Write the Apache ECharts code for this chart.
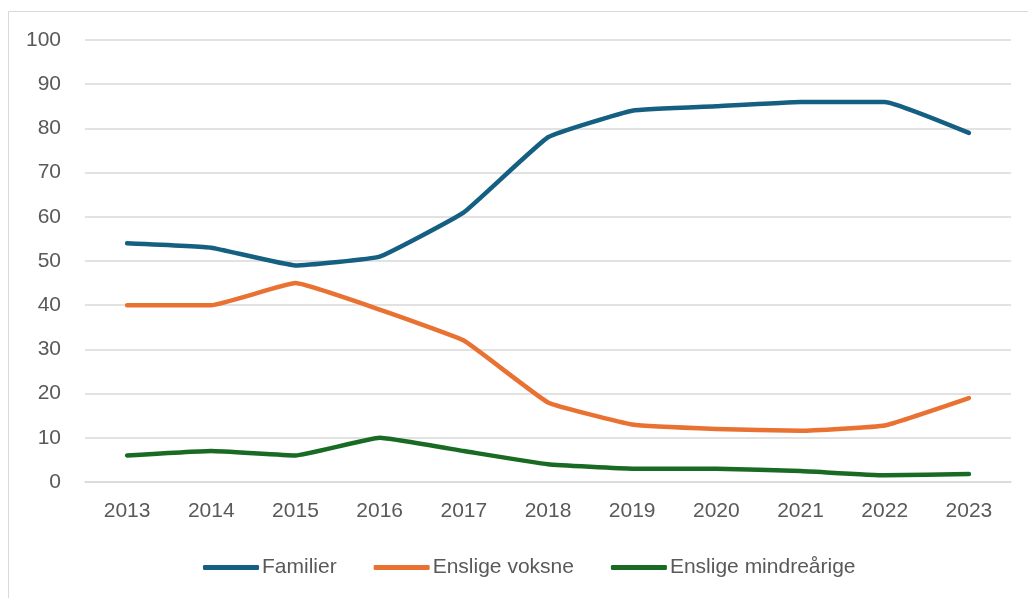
<!DOCTYPE html>
<html><head><meta charset="utf-8">
<script src="https://cdn.jsdelivr.net/npm/echarts@6/dist/echarts.min.js"></script>
<style>html,body{margin:0;padding:0;background:#fff}#c{width:1028px;height:598px}</style>
</head><body><div id="c"></div>
<script>
const years = ['2013','2014','2015','2016','2017','2018','2019','2020','2021','2022','2023'];
const familier = [54, 53, 49, 51, 61, 78, 84, 85, 86, 86, 79];
const ensligeVoksne = [40, 40, 45, 39, 32, 18, 13, 12, 11.6, 12.8, 19];
const ensligeMindreaarige = [6, 7, 6, 10, 7, 4, 3, 3, 2.5, 1.5, 1.8];
const seriesNames = ['Familier', 'Enslige voksne', 'Enslige mindreårige'];

const chart = echarts.init(document.getElementById('c'), null, {renderer:'canvas'});
const font = 'Liberation Sans, Arial, sans-serif';
function line(name, data, color){
  return {name, type:'line', data, symbol:'none', smooth:0.1,
    lineStyle:{width:4.5, color, cap:'round', join:'round'}, itemStyle:{color}};
}
chart.setOption({
  animation:false,
  graphic:[{type:'rect', shape:{x:8.5, y:11.5, width:1100, height:700},
    style:{fill:'none', stroke:'#d9d9d9', lineWidth:1}, silent:true}],
  grid:{left:85, right:17, top:40, bottom:116, containLabel:false},
  legend:{left:198, top:552, itemWidth:56, itemHeight:5, itemGap:37,
    icon:'roundRect',
    textStyle:{fontFamily:font, fontSize:21, color:'#595959', padding:[0,0,0,-2]},
    data:seriesNames},
  xAxis:{type:'category', data:years, boundaryGap:true,
    axisLine:{lineStyle:{color:'#d9d9d9', width:1.5}}, axisTick:{show:false},
    axisLabel:{fontFamily:font, fontSize:21, color:'#595959', margin:19}},
  yAxis:{type:'value', min:0, max:100, interval:10,
    axisLine:{show:false}, axisTick:{show:false},
    splitLine:{lineStyle:{color:'#d9d9d9', width:1.5}},
    axisLabel:{fontFamily:font, fontSize:21, color:'#595959', margin:24}},
  series:[
    line(seriesNames[0], familier, '#156082'),
    line(seriesNames[1], ensligeVoksne, '#E97132'),
    line(seriesNames[2], ensligeMindreaarige, '#196B24')
  ]
});
</script></body></html>
